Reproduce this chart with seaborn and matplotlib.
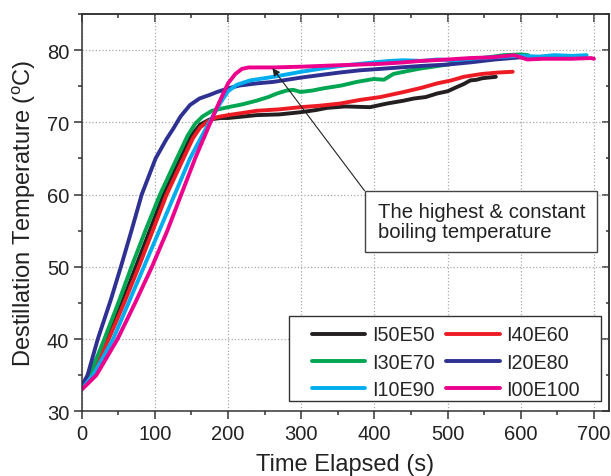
import numpy as np
import pandas as pd
import matplotlib
matplotlib.use('Agg')
import matplotlib.pyplot as plt
from matplotlib.ticker import MultipleLocator
from matplotlib.lines import Line2D
from matplotlib.patches import Rectangle
import seaborn as sns

# ── Data ──────────────────────────────────────────────────────────────
t_i50 = [0, 12.7, 34, 55, 74, 93, 112, 135, 150, 162, 175, 190, 200, 220, 239, 270, 299, 320, 335,
         360, 394, 417, 440, 454, 470, 486, 500, 513, 522, 531, 540, 547, 556, 566]
T_i50 = [33.1, 35, 40, 45, 50, 55, 60, 65, 68.2, 69.7, 70.4, 70.6, 70.6, 70.8, 71.0, 71.1, 71.4, 71.7, 72.0,
         72.2, 72.1, 72.6, 73.0, 73.3, 73.5, 74.0, 74.3, 74.9, 75.3, 75.8, 75.9, 76.1, 76.2, 76.3]

t_i40 = [0, 13, 37, 58, 78, 97, 116, 139, 152, 162, 172, 184, 200, 220, 239, 270, 299, 325,
         353, 380, 408, 440, 465, 486, 505, 522, 547, 570, 589]
T_i40 = [33.1, 35, 40, 45, 50, 55, 60, 65, 67.8, 69.3, 70.1, 70.7, 71.0, 71.3, 71.6, 71.8, 72.1, 72.3,
         72.6, 73.1, 73.5, 74.2, 74.8, 75.4, 75.8, 76.3, 76.7, 76.9, 77.0]

t_i30 = [0, 11, 31, 50, 68, 87, 107, 130, 145, 155, 165, 178, 200, 220, 239, 255, 267, 280, 289,
         299, 315, 330, 355, 376, 399, 413, 426, 445, 463, 480, 500, 515, 531, 555, 577, 600, 610]
T_i30 = [33.2, 35, 40, 45, 50, 55, 60, 65, 68.2, 69.8, 70.8, 71.6, 72.1, 72.5, 73.0, 73.5, 74.0, 74.4, 74.5,
         74.2, 74.4, 74.7, 75.1, 75.6, 76.0, 75.9, 76.7, 77.1, 77.45, 77.7, 78.0, 78.3, 78.6, 79.0, 79.3, 79.4, 79.3]

t_i20 = [0, 8, 22, 40, 55, 68, 82, 101, 116, 125, 135, 148, 161, 175, 185, 200, 216, 240, 262,
         300, 330, 353, 380, 408, 435, 463, 500, 531, 565, 600]
T_i20 = [33.5, 35, 40, 45.5, 50.5, 55, 60, 65, 67.7, 69.1, 70.8, 72.4, 73.3, 73.8, 74.2, 74.7, 75.1, 75.4, 75.6,
         76.2, 76.6, 76.9, 77.2, 77.4, 77.6, 77.8, 78.0, 78.3, 78.7, 79.0]

t_i10 = [0, 15.5, 43, 64, 85, 106, 127, 148, 160, 169, 180, 189, 200, 212, 230, 262, 300, 325, 353,
         380, 400, 420, 440, 465, 486, 510, 531, 560, 600, 625, 646, 670, 690]
T_i10 = [33.1, 35, 40, 45, 50, 55, 60, 65, 67.3, 69.0, 71.0, 72.6, 74.3, 75.2, 75.8, 76.3, 77.0, 77.4, 77.8,
         78.1, 78.3, 78.5, 78.6, 78.5, 78.7, 78.6, 78.8, 79.0, 79.2, 79.1, 79.3, 79.2, 79.3]

t_i00 = [0, 20, 49, 73, 96, 117, 136, 155, 168, 184, 200, 210, 219, 228, 262, 300, 350, 408,
         440, 463, 500, 531, 560, 591, 600, 609, 630, 646, 670, 696, 700]
T_i00 = [33.0, 35, 40, 45, 50, 55, 60, 65, 68.1, 71.9, 75.4, 76.7, 77.4, 77.6, 77.6, 77.7, 77.9, 78.1,
         78.3, 78.5, 78.7, 78.9, 79.0, 79.3, 79.0, 78.7, 78.8, 78.8, 78.8, 78.9, 78.8]

samples = ['I50E50', 'I40E60', 'I30E70', 'I20E80', 'I10E90', 'I00E100']
colors = ['#231f20', '#ed1c24', '#00a651', '#2e3192', '#00aeef', '#ec008c']
times = [t_i50, t_i40, t_i30, t_i20, t_i10, t_i00]
temps = [T_i50, T_i40, T_i30, T_i20, T_i10, T_i00]

df = pd.concat([pd.DataFrame({'time': t, 'temp': T, 'sample': s})
                for t, T, s in zip(times, temps, samples)], ignore_index=True)

# ── Style ─────────────────────────────────────────────────────────────
sns.set_theme(style='ticks')
plt.rcParams['font.family'] = ['Liberation Sans', 'DejaVu Sans']
plt.rcParams['mathtext.fontset'] = 'custom'
plt.rcParams['mathtext.rm'] = 'Liberation Sans'
plt.rcParams['axes.edgecolor'] = '#333333'
plt.rcParams['axes.linewidth'] = 1.1

fig = plt.figure(figsize=(6.11, 4.77), dpi=100)
ax = fig.add_axes([0.1337, 0.1356, 0.9972 - 0.1337, 0.9686 - 0.1356])

palette = dict(zip(samples, colors))
sns.lineplot(data=df, x='time', y='temp', hue='sample', hue_order=samples,
             palette=palette, estimator=None, sort=False, linewidth=2.8,
             legend=False, ax=ax)
for ln in ax.get_lines():
    ln.set_solid_capstyle('round')
    ln.set_solid_joinstyle('round')

ax.set_xlim(0, 721)
ax.set_ylim(30, 85)
ax.xaxis.set_major_locator(MultipleLocator(100))
ax.xaxis.set_minor_locator(MultipleLocator(50))
ax.yaxis.set_major_locator(MultipleLocator(10))
ax.yaxis.set_minor_locator(MultipleLocator(5))
ax.grid(True, which='major', ls=':', color='#a8a8a8', lw=0.9)
ax.tick_params(which='both', direction='out', colors='#333333', labelcolor='#222222',
               labelsize=14.5, width=1.1)
ax.tick_params(which='major', length=6, pad=3)
ax.tick_params(which='minor', length=3)

# top / right ticks point inwards
sec_x = ax.secondary_xaxis('top')
sec_x.xaxis.set_major_locator(MultipleLocator(100))
sec_x.xaxis.set_minor_locator(MultipleLocator(50))
sec_x.tick_params(which='both', direction='in', labeltop=False, colors='#333333', width=1.1)
sec_x.tick_params(which='major', length=5.5)
sec_x.tick_params(which='minor', length=3)
sec_y = ax.secondary_yaxis('right')
sec_y.yaxis.set_major_locator(MultipleLocator(10))
sec_y.yaxis.set_minor_locator(MultipleLocator(5))
sec_y.tick_params(which='both', direction='in', labelright=False, colors='#333333', width=1.1)
sec_y.tick_params(which='major', length=5)
sec_y.tick_params(which='minor', length=2.5)

ax.set_xlabel('Time Elapsed (s)', fontsize=17, color='#222222', labelpad=7.5)
ax.set_ylabel(r'Destillation Temperature ($^\mathrm{o}$C)', fontsize=17, color='#222222', labelpad=6)

# ── Legend (row-wise order like the reference), frame drawn separately ─
ax.add_patch(Rectangle((0.3937, 0.0259), 0.5906, 0.214, transform=ax.transAxes,
                       fc='white', ec='#333333', lw=1.0, zorder=4))
order = [0, 2, 4, 1, 3, 5]
handles = [Line2D([], [], color=colors[i], lw=2.8, solid_capstyle='round') for i in order]
leg = ax.legend(handles, [samples[i] for i in order], ncol=2, loc='upper left',
                bbox_to_anchor=(0.436, 0.2160), borderaxespad=0, borderpad=0,
                fontsize=14.2, handlelength=2.7, handletextpad=0.35, columnspacing=0.6,
                labelspacing=0.42, frameon=False)
leg.set_zorder(5)

# ── Annotation box + arrow ────────────────────────────────────────────
box_x0, box_x1 = 386.5, 704.6
box_y0, box_y1 = 52.0, 60.54
ax.add_patch(Rectangle((box_x0, box_y0), box_x1 - box_x0, box_y1 - box_y0,
                       fc='white', ec='#444444', lw=1.0, zorder=5))
ax.text(405, (box_y0 + box_y1) / 2, 'The highest & constant\nboiling temperature',
        ha='left', va='center', fontsize=14.6, color='#222222', linespacing=1.05, zorder=6)
ax.annotate('', xy=(260.7, 77.5), xytext=(box_x0, box_y1),
            arrowprops=dict(arrowstyle='-|>', color='#222222', lw=0.8,
                            mutation_scale=11, shrinkA=0, shrinkB=0),
            zorder=6)

fig.savefig('out.png', dpi=100)
